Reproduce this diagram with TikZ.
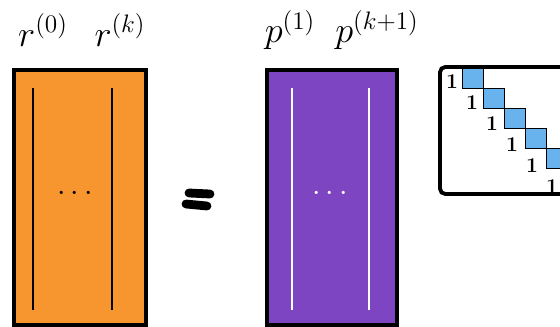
\documentclass[tikz,border=0pt]{standalone}
\usepackage{tikz}
\usetikzlibrary{positioning, calc}

\definecolor{rorange}{HTML}{F7952F}
\definecolor{ppurple}{HTML}{7E45C3}
\definecolor{dblue}{HTML}{68B2EE}

\begin{document}
\begin{tikzpicture}[x=0.02cm, y=-0.02cm,
			% Define styles
			matbox/.style={rectangle, draw=black, line width=2.6pt, minimum height=5.1cm, inner sep=0pt},
			collabel/.style={font=\huge, inner sep=0pt},
			colline/.style={line width=1.2pt},
			diagbox/.style={rectangle, draw=black, line width=0.6pt, fill=dblue, minimum width=0.42cm, minimum height=0.4cm, inner sep=0pt, anchor=north west},
			onelabel/.style={font=\large\bfseries, inner sep=0pt},
			eqstroke/.style={line width=5pt, line cap=round}
			]
			\clip (0,0) rectangle (560,327);
			
			% Left matrix R
			\node[matbox, fill=rorange, minimum width=2.64cm] (rmat) at (80,197.5) {};
			\draw[colline] (33,88) -- (33,310);
			\draw[colline] (112,88) -- (112,310);
			\node[font=\LARGE] (rdots) at (75,194) {$\cdots$};
			\node[collabel] (r0) at (43,30) {$r^{(0)}$};
			\node[collabel] (rk) at (120,30) {$r^{(k)}$};
			
			% Equals sign
			\draw[eqstroke] (189,193) -- (210,194);
			\draw[eqstroke] (186,204) -- (207,206);
			
			% Right matrix P
			\node[matbox, fill=ppurple, minimum width=2.6cm] (pmat) at (332,197.5) {};
			\draw[colline, white] (292,88) -- (292,310);
			\draw[colline, white] (369,88) -- (369,310);
			\node[font=\LARGE, text=white] (pdots) at (330,194) {$\cdots$};
			\node[collabel] (p1) at (290,30) {$p^{(1)}$};
			\node[collabel] (pk1) at (377,30) {$p^{(k+1)}$};
			
			% Bidiagonal matrix
			\draw[line width=2.2pt, rounded corners=3pt] (440,194) -- (440,67) -- (620,67) -- (620,194) -- cycle;
			\foreach \k in {0,...,5} {
				\node[diagbox] (sq\k) at (462+21*\k,68+20*\k) {};
				\node[onelabel] (one\k) at (452+20*\k,82+21*\k) {1};
			}
			
		\end{tikzpicture}
\end{document}
